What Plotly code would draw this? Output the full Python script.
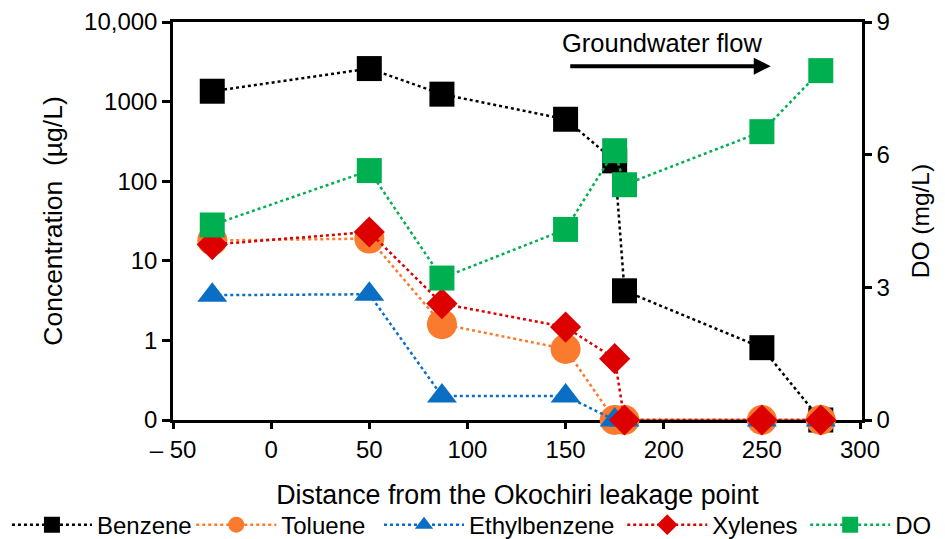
import plotly.graph_objects as go

# ---------------- data ----------------
distance = [-30, 50, 87, 150, 175, 180, 250, 280]
benzene = [1350, 2600, 1240, 600, 180, 4.2, 0.81, 0]
toluene = [18, 19, 1.6, 0.78, 0, 0, 0, 0]
ethylbenzene = [3.7, 3.8, 0.2, 0.2, 0, 0, 0, 0]
xylenes = [16, 23, 2.9, 1.47, 0.59, 0, 0, 0]
do_mgL = [4.41, 5.64, 3.21, 4.31, 6.09, 5.32, 6.52, 7.90]

x_tickvals = [-50, 0, 50, 100, 150, 200, 250, 300]
x_ticktext = ["\u2013 50", "0", "50", "100", "150", "200", "250", "300"]
y_tickvals = [0.1, 1, 10, 100, 1000, 10000]
y_ticktext = ["0", "1", "10", "100", "1000", "10,000"]
y2_tickvals = [0, 3, 6, 9]

LOG_FLOOR = 0.1  # the "0" tick on the log axis


def floor0(vals):
    return [v if v > 0 else LOG_FLOOR for v in vals]


FONT = "Liberation Sans, Arial, sans-serif"

fig = go.Figure()

series = [
    ("Benzene", benzene, "#000000", "square", 25, "legend"),
    ("Toluene", toluene, "#FA7A2E", "circle", 30, "legend2"),
    ("Ethylbenzene", ethylbenzene, "#0A6EC4", "triangle-up", 26, "legend3"),
    ("Xylenes", xylenes, "#DD0000", "diamond", 24, "legend4"),
]
for name, vals, col, sym, sz, leg in series:
    fig.add_trace(go.Scatter(
        x=distance, y=floor0(vals), name=name, mode="lines+markers",
        line=dict(color=col, width=2.5, dash="dot"),
        marker=dict(symbol=sym, size=sz, color=col, line=dict(width=0)),
        cliponaxis=False, yaxis="y", legend=leg,
    ))

fig.add_trace(go.Scatter(
    x=distance, y=do_mgL, name="DO", mode="lines+markers",
    line=dict(color="#00B050", width=2.5, dash="dot"),
    marker=dict(symbol="square", size=25, color="#00B050", line=dict(width=0)),
    cliponaxis=False, yaxis="y2", legend="legend5",
))

axis_common = dict(
    showline=True, linecolor="black", linewidth=2.5,
    ticks="outside", tickwidth=2.5, tickcolor="black",
    showgrid=False, zeroline=False,
    tickfont=dict(family=FONT, size=24, color="black"),
    layer="below traces",
)


def legend_at(xp):
    return dict(
        orientation="h", x=xp, xanchor="left", y=-0.264, yanchor="middle",
        font=dict(family=FONT, size=24, color="black"),
        itemwidth=80, bgcolor="rgba(0,0,0,0)",
    )


fig.update_layout(
    width=945, height=539,
    margin=dict(l=173, r=83, t=22, b=119, autoexpand=False),
    paper_bgcolor="white", plot_bgcolor="white",
    font=dict(family=FONT, color="black"),
    xaxis=dict(
        range=[-50, 301], tickvals=x_tickvals, ticktext=x_ticktext,
        ticklen=6, mirror=True,
        title=dict(text="Distance from the Okochiri leakage point",
                   font=dict(family=FONT, size=26.8, color="black"), standoff=24),
        **axis_common,
    ),
    yaxis=dict(
        type="log", range=[-1, 4], tickvals=y_tickvals, ticktext=y_ticktext,
        ticklen=8,
        title=dict(text="Concentration  (\u00b5g/L)",
                   font=dict(family=FONT, size=26.5, color="black"), standoff=14),
        **axis_common,
    ),
    yaxis2=dict(
        overlaying="y", side="right", range=[0, 9], tickvals=y2_tickvals,
        ticklen=7,
        title=dict(text="DO (mg/L)",
                   font=dict(family=FONT, size=24.5, color="black"), standoff=23),
        **axis_common,
    ),
    legend=legend_at(-0.241),
    legend2=legend_at(0.0265),
    legend3=legend_at(0.2990),
    legend4=legend_at(0.6520),
    legend5=legend_at(0.9175),
    showlegend=True,
)

# "Groundwater flow" label and arrow
fig.add_annotation(
    x=199, xref="x", y=0.947, yref="paper", text="Groundwater flow",
    xanchor="center", yanchor="middle",
    showarrow=False, font=dict(family=FONT, size=25.5, color="black"),
)
fig.add_annotation(
    x=254.5, xref="x", y=0.889, yref="paper", text="",
    showarrow=True, axref="pixel", ayref="pixel", ax=-202, ay=0,
    arrowhead=2, arrowsize=0.85, arrowwidth=4, arrowcolor="black",
)

fig.write_html("out.html")
